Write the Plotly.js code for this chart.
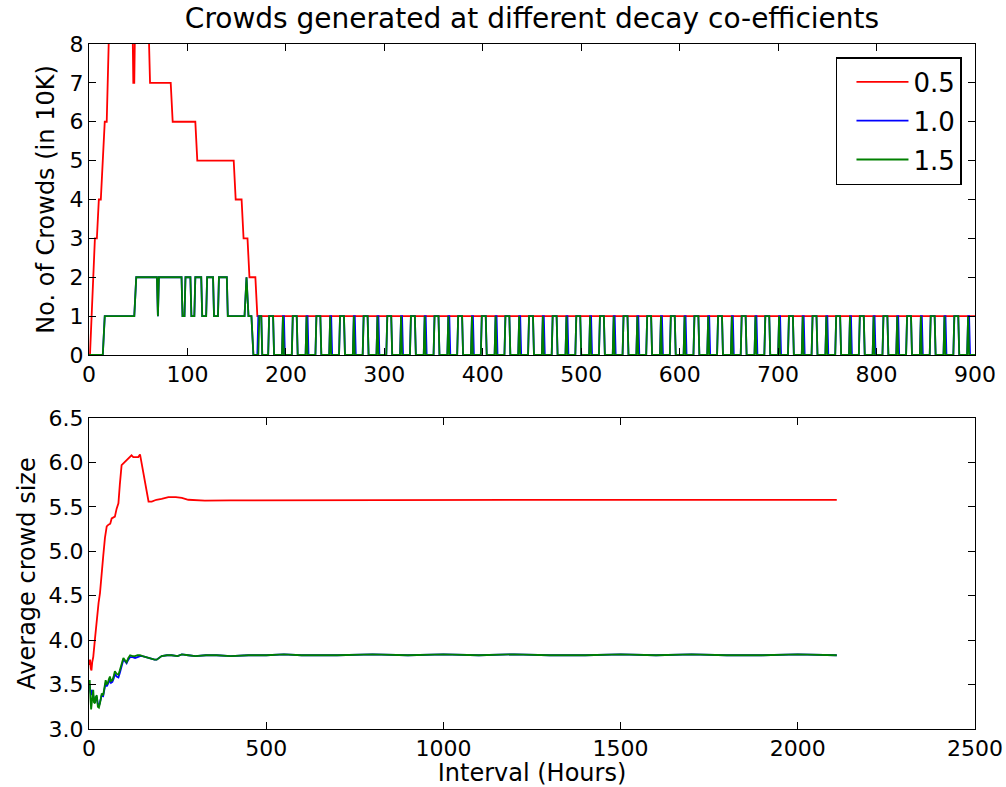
<!DOCTYPE html>
<html>
<head>
<meta charset="utf-8">
<script src="https://cdn.plot.ly/plotly-3.0.1.min.js"></script>
<style>html,body{margin:0;padding:0;background:#fff;}#chart{width:1006px;height:787px;}</style>
</head>
<body>
<div id="chart"></div>
<script>
// ---------- Top panel: number of crowds (in 10K) vs hour ----------
const seriesNames = ['0.5', '1.0', '1.5'];

const crowdsRedX = [0,1,6,8,10,12,16,18,21,44,45,46,47,60,62,83,85,108,110,147,149,155,157,161,163,169,171,900];
const crowdsRedY = [0,0,3,3,4,4,6,6,9,9,7,7,9,9,7,7,6,6,5,5,4,4,3,3,2,2,1,1];

const crowdsGreenEarlyX = [0,14,16,46,48,69,70,71,94,95,97,98,103,104,107,108,114,115,119,120,126,127,131,132,140,141,158,160,162,165,167,172,173,175,176,182,183,187,188];
const crowdsGreenEarlyY = [0,0,1,1,2,2,1,2,2,1,1,2,2,1,1,2,2,1,1,2,2,1,1,2,2,1,1,2,1,1,0,0,1,1,0,0,1,1,0];

const crowdsBlueEarlyX = [0,14,16,46,48,69,70,71,94,95,97,98,103,104,107,108,114,115,119,120,126,127,131,132,140,141,158,160,162,165,167,171,172,175,176,182,183,187,188];
const crowdsBlueEarlyY = [0,0,1,1,2,2,1,2,2,1,1,2,2,1,1,2,2,1,1,2,2,1,1,2,2,1,1,2,1,1,0,0,1,1,0,0,1,1,0];

const crowdsGreenLateX = [
196,197,198,206,207,211,212, 220,221,222,230,231,235,236, 244,245,246,254,255,259,260,
268,269,270,278,279,283,284, 292,293,294,302,303,307,308, 316,317,318,326,327,331,332,
340,341,342,350,351,355,356, 364,365,366,374,375,379,380, 388,389,390,398,399,403,404,
412,413,414,422,423,427,428, 436,437,438,446,447,451,452, 460,461,462,470,471,475,476,
484,485,486,494,495,499,500, 508,509,510,518,519,523,524, 532,533,534,542,543,547,548,
556,557,558,566,567,571,572, 580,581,582,590,591,595,596, 604,605,606,614,615,619,620,
628,629,630,638,639,643,644, 652,653,654,662,663,667,668, 676,677,678,686,687,691,692,
700,701,702,710,711,715,716, 724,725,726,734,735,739,740, 748,749,750,758,759,763,764,
772,773,774,782,783,787,788, 796,797,798,806,807,811,812, 820,821,822,830,831,835,836,
844,845,846,854,855,859,860, 868,869,870,878,879,883,884, 892,893,894,900];
const crowdsGreenLateY = [
0,1,0,0,1,1,0, 0,1,0,0,1,1,0, 0,1,0,0,1,1,0,
0,1,0,0,1,1,0, 0,1,0,0,1,1,0, 0,1,0,0,1,1,0,
0,1,0,0,1,1,0, 0,1,0,0,1,1,0, 0,1,0,0,1,1,0,
0,1,0,0,1,1,0, 0,1,0,0,1,1,0, 0,1,0,0,1,1,0,
0,1,0,0,1,1,0, 0,1,0,0,1,1,0, 0,1,0,0,1,1,0,
0,1,0,0,1,1,0, 0,1,0,0,1,1,0, 0,1,0,0,1,1,0,
0,1,0,0,1,1,0, 0,1,0,0,1,1,0, 0,1,0,0,1,1,0,
0,1,0,0,1,1,0, 0,1,0,0,1,1,0, 0,1,0,0,1,1,0,
0,1,0,0,1,1,0, 0,1,0,0,1,1,0, 0,1,0,0,1,1,0,
0,1,0,0,1,1,0, 0,1,0,0,1,1,0, 0,1,0,0];

const crowdsBlueLateX = [
196,197,198,199,206,207,211,212, 220,221,222,223,230,231,235,236, 244,245,246,247,254,255,259,260,
268,269,270,271,278,279,283,284, 292,293,294,295,302,303,307,308, 316,317,318,319,326,327,331,332,
340,341,342,343,350,351,355,356, 364,365,366,367,374,375,379,380, 388,389,390,391,398,399,403,404,
412,413,414,415,422,423,427,428, 436,437,438,439,446,447,451,452, 460,461,462,463,470,471,475,476,
484,485,486,487,494,495,499,500, 508,509,510,511,518,519,523,524, 532,533,534,535,542,543,547,548,
556,557,558,559,566,567,571,572, 580,581,582,583,590,591,595,596, 604,605,606,607,614,615,619,620,
628,629,630,631,638,639,643,644, 652,653,654,655,662,663,667,668, 676,677,678,679,686,687,691,692,
700,701,702,703,710,711,715,716, 724,725,726,727,734,735,739,740, 748,749,750,751,758,759,763,764,
772,773,774,775,782,783,787,788, 796,797,798,799,806,807,811,812, 820,821,822,823,830,831,835,836,
844,845,846,847,854,855,859,860, 868,869,870,871,878,879,883,884, 892,893,894,895,900];
const crowdsBlueLateY = [
0,1,1,0,0,1,1,0, 0,1,1,0,0,1,1,0, 0,1,1,0,0,1,1,0,
0,1,1,0,0,1,1,0, 0,1,1,0,0,1,1,0, 0,1,1,0,0,1,1,0,
0,1,1,0,0,1,1,0, 0,1,1,0,0,1,1,0, 0,1,1,0,0,1,1,0,
0,1,1,0,0,1,1,0, 0,1,1,0,0,1,1,0, 0,1,1,0,0,1,1,0,
0,1,1,0,0,1,1,0, 0,1,1,0,0,1,1,0, 0,1,1,0,0,1,1,0,
0,1,1,0,0,1,1,0, 0,1,1,0,0,1,1,0, 0,1,1,0,0,1,1,0,
0,1,1,0,0,1,1,0, 0,1,1,0,0,1,1,0, 0,1,1,0,0,1,1,0,
0,1,1,0,0,1,1,0, 0,1,1,0,0,1,1,0, 0,1,1,0,0,1,1,0,
0,1,1,0,0,1,1,0, 0,1,1,0,0,1,1,0, 0,1,1,0,0,1,1,0,
0,1,1,0,0,1,1,0, 0,1,1,0,0,1,1,0, 0,1,1,0,0];

// ---------- Bottom panel: average crowd size vs interval ----------
const avgRedX = [0,3,5,7,9,12,17,22,27,31,36,40,45,50,55,60,64,69,73,78,83,87,92,97,102,111,120,125,130,139,144,148,153,160,168,177,190,205,224,245,262,280,300,327,400,600,800,1000,1200,1400,1600,1800,2000,2110];
const avgRedY = [3.72,3.78,3.68,3.66,3.75,3.81,4.02,4.26,4.42,4.53,4.72,4.94,5.15,5.28,5.30,5.31,5.37,5.38,5.39,5.48,5.54,5.75,5.97,5.99,6.01,6.04,6.08,6.06,6.06,6.06,6.09,6.00,5.88,5.72,5.56,5.56,5.58,5.59,5.61,5.61,5.60,5.58,5.575,5.57,5.572,5.575,5.576,5.577,5.578,5.578,5.579,5.578,5.578,5.578];

const avgGBX = [0,2,4,6,8,10,12,14,17,19,22,25,28,31,34,36,40,44,47,50,53,56,59,62,66,70,73,78,83,87,90,94,97,102,106,111,116,123,130,137,144,151,158,168,177,185,191,198,205,220,233,250,262,280,300,330,360,400,450,500,550,600,700,800,900,1000,1100,1200,1300,1400,1500,1600,1700,1800,1900,2000,2110];
const avgGreenY = [3.48,3.55,3.35,3.22,3.30,3.42,3.44,3.30,3.29,3.36,3.38,3.25,3.24,3.29,3.36,3.40,3.38,3.48,3.55,3.50,3.52,3.56,3.59,3.54,3.55,3.60,3.65,3.62,3.61,3.66,3.70,3.76,3.80,3.77,3.75,3.80,3.83,3.82,3.82,3.83,3.83,3.82,3.81,3.80,3.79,3.78,3.78,3.80,3.82,3.83,3.83,3.82,3.84,3.83,3.82,3.83,3.83,3.82,3.83,3.83,3.84,3.83,3.83,3.84,3.83,3.84,3.83,3.84,3.83,3.83,3.84,3.83,3.84,3.83,3.83,3.84,3.83];
const avgBlueY = [3.46,3.50,3.42,3.38,3.44,3.40,3.36,3.35,3.30,3.34,3.36,3.28,3.26,3.30,3.34,3.38,3.37,3.45,3.52,3.48,3.50,3.53,3.55,3.52,3.53,3.57,3.62,3.59,3.58,3.63,3.67,3.73,3.78,3.76,3.74,3.78,3.81,3.81,3.80,3.81,3.82,3.82,3.81,3.80,3.79,3.78,3.78,3.80,3.82,3.83,3.83,3.82,3.84,3.83,3.82,3.83,3.83,3.82,3.83,3.83,3.84,3.83,3.83,3.84,3.83,3.84,3.83,3.84,3.83,3.83,3.84,3.83,3.84,3.83,3.83,3.84,3.83];

const topXTicks = [0,100,200,300,400,500,600,700,800,900];
const topYTicks = [0,1,2,3,4,5,6,7,8];
const botXTicks = [0,500,1000,1500,2000,2500];
const botYTicks = [3.0,3.5,4.0,4.5,5.0,5.5,6.0,6.5];

const RED = '#ff0000', BLUE = '#0000ff', GREEN = '#008000';
const LW = 1.8;

const traces = [
  {x: crowdsRedX, y: crowdsRedY, type: 'scatter', mode: 'lines', name: seriesNames[0], legendgroup: 'a',
   line: {color: RED, width: LW}, xaxis: 'x', yaxis: 'y'},
  {x: crowdsBlueEarlyX.concat(crowdsBlueLateX), y: crowdsBlueEarlyY.concat(crowdsBlueLateY), type: 'scatter', mode: 'lines',
   name: seriesNames[1], legendgroup: 'b', line: {color: BLUE, width: LW}, xaxis: 'x', yaxis: 'y'},
  {x: crowdsGreenEarlyX.concat(crowdsGreenLateX), y: crowdsGreenEarlyY.concat(crowdsGreenLateY), type: 'scatter', mode: 'lines',
   name: seriesNames[2], legendgroup: 'c', line: {color: GREEN, width: LW}, xaxis: 'x', yaxis: 'y'},
  {x: avgRedX, y: avgRedY, type: 'scatter', mode: 'lines', showlegend: false,
   line: {color: RED, width: LW}, xaxis: 'x2', yaxis: 'y2'},
  {x: avgGBX, y: avgBlueY, type: 'scatter', mode: 'lines', showlegend: false,
   line: {color: BLUE, width: LW}, xaxis: 'x2', yaxis: 'y2'},
  {x: avgGBX, y: avgGreenY, type: 'scatter', mode: 'lines', showlegend: false,
   line: {color: GREEN, width: LW}, xaxis: 'x2', yaxis: 'y2'}
];

const axisCommon = {
  showline: true, linecolor: '#000', linewidth: 1, mirror: 'allticks',
  ticks: 'inside', ticklen: 7, tickwidth: 1, tickcolor: '#000',
  showgrid: false, zeroline: false, tickfont: {size: 22, color: '#000'}
};

const layout = {
  width: 1006, height: 787,
  margin: {l: 89, r: 31, t: 44, b: 58},
  paper_bgcolor: '#fff', plot_bgcolor: '#fff',
  font: {family: 'DejaVu Sans, sans-serif', size: 22, color: '#000'},
  title: {text: 'Crowds generated at different decay co-efficients', font: {size: 28, color: '#000'},
          x: 0.5, xref: 'paper', xanchor: 'center', y: 1 - 18/787, yref: 'container', yanchor: 'middle'},
  xaxis: Object.assign({}, axisCommon, {domain: [0, 1], range: [0, 900], anchor: 'y', tickvals: topXTicks, ticktext: topXTicks.map(String)}),
  yaxis: Object.assign({}, axisCommon, {domain: [0.546, 1], range: [0, 8], anchor: 'x', tickvals: topYTicks, ticktext: topYTicks.map(String),
          title: {text: 'No. of Crowds (in 10K)', font: {size: 24}, standoff: 8}}),
  xaxis2: Object.assign({}, axisCommon, {domain: [0, 1], range: [0, 2500], anchor: 'y2', tickvals: botXTicks, ticktext: botXTicks.map(String),
          title: {text: 'Interval (Hours)', font: {size: 24}, standoff: 2}}),
  yaxis2: Object.assign({}, axisCommon, {domain: [0, 0.454], range: [3, 6.5], anchor: 'x2', tickvals: botYTicks, ticktext: botYTicks.map(v => v.toFixed(1)),
          title: {text: 'Average crowd size', font: {size: 24}, standoff: 6}}),
  showlegend: true,
  legend: {x: 0.9853, xanchor: 'right', y: 0.981, yanchor: 'top', bgcolor: '#fff', bordercolor: '#000', borderwidth: 1.5,
           font: {size: 26, color: '#000'}, traceorder: 'grouped', tracegroupgap: 2, itemwidth: 52, indentation: 14}
};

Plotly.newPlot('chart', traces, layout, {displayModeBar: false, staticPlot: true});
</script>
</body>
</html>
